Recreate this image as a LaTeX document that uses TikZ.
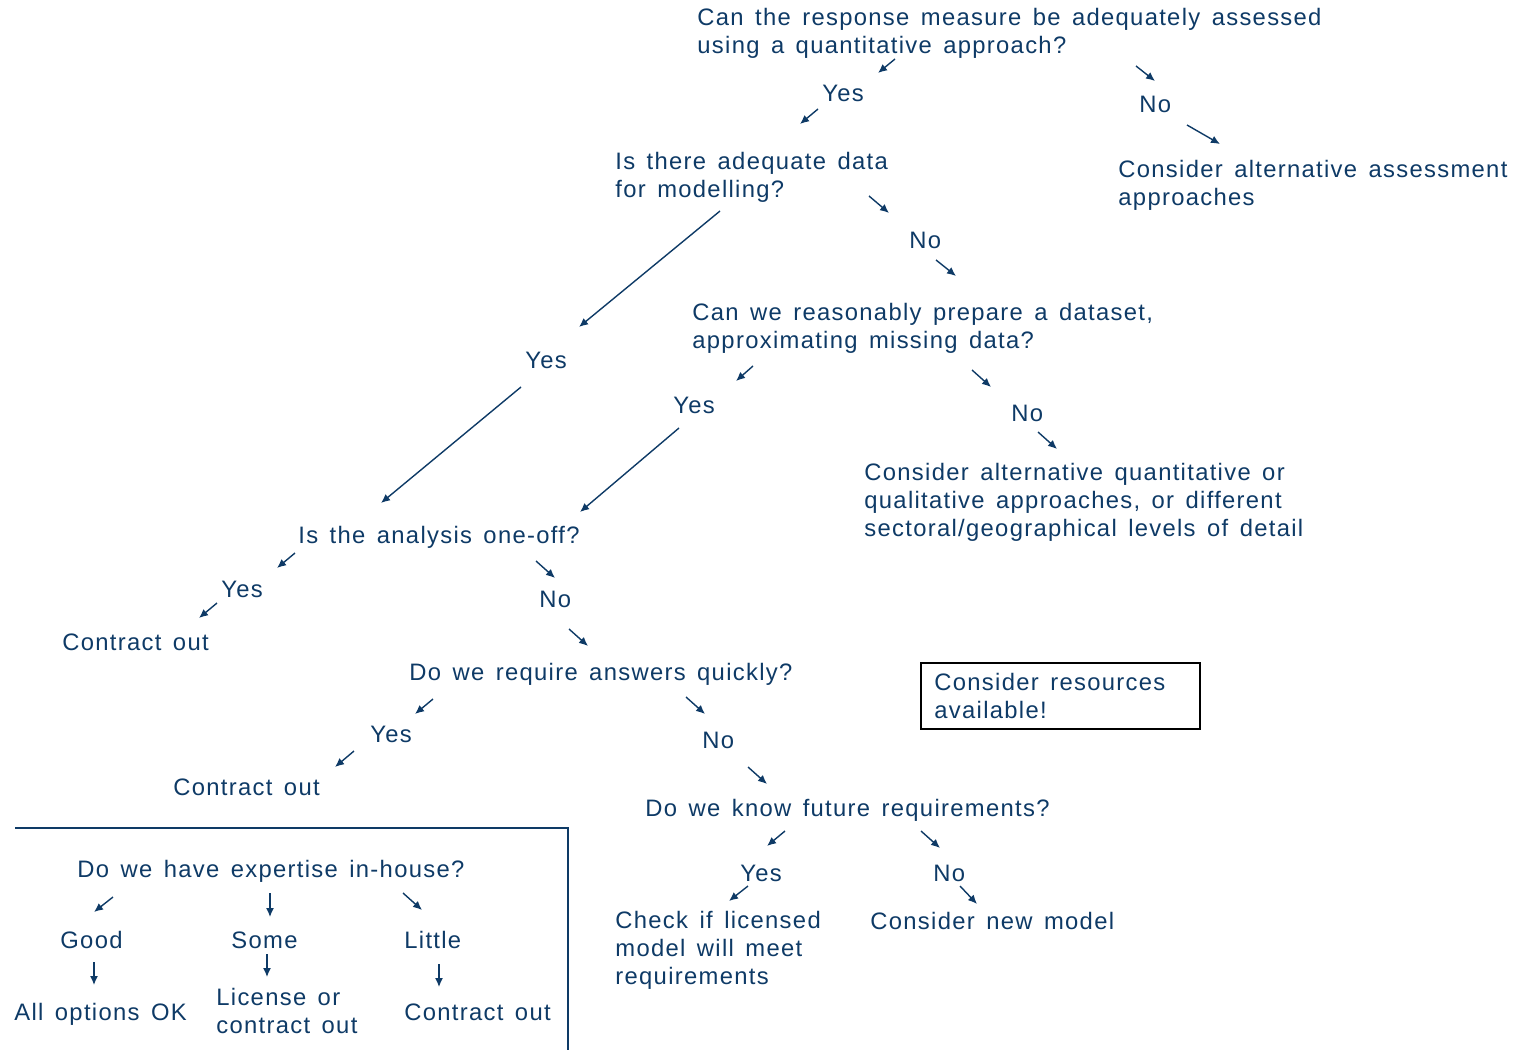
\documentclass[tikz,border=0pt]{standalone}
\usepackage{fontspec}
\setmainfont{Liberation Sans}[LetterSpace=5.5, WordSpace=1.45]
\usetikzlibrary{arrows.meta}
\definecolor{navy}{RGB}{14,58,102}

\begin{document}
\begin{tikzpicture}[x=0.5pt, y=-0.5pt,
            txtnode/.style={anchor=base west, inner sep=0pt, align=left, text=navy, font=\fontsize{11.9}{14}\selectfont},
            arrowline/.style={draw=navy, line width=0.7pt, -{Latex[length=4.5pt, width=4pt]}},
            resbox/.style={draw=black, line width=0.75pt},
        ]
        \useasboundingbox (0,0) rectangle (1513,1050);

        %Nodes (placed at the baseline of their last line)
        \node[txtnode] (qquant)     at (697,53)  {Can the response measure be adequately assessed\\using a quantitative approach?};
        \node[txtnode] (yesquant)   at (822,101) {Yes};
        \node[txtnode] (noquant)    at (1139,112) {No};
        \node[txtnode] (altassess)  at (1118,205) {Consider alternative assessment\\approaches};
        \node[txtnode] (qdata)      at (615,197) {Is there adequate data\\for modelling?};
        \node[txtnode] (nodata)     at (909,248) {No};
        \node[txtnode] (qprep)      at (692,348) {Can we reasonably prepare a dataset,\\approximating missing data?};
        \node[txtnode] (yesdata)    at (525,368) {Yes};
        \node[txtnode] (yesprep)    at (673,413) {Yes};
        \node[txtnode] (noprep)     at (1011,421) {No};
        \node[txtnode] (altquant)   at (864,536) {Consider alternative quantitative or\\qualitative approaches, or different\\sectoral/geographical levels of detail};
        \node[txtnode] (qoneoff)    at (298,543) {Is the analysis one-off?};
        \node[txtnode] (yesoneoff)  at (221,597) {Yes};
        \node[txtnode] (nooneoff)   at (539,607) {No};
        \node[txtnode] (contracta)  at (62,650)  {Contract out};
        \node[txtnode] (qquick)     at (409,680) {Do we require answers quickly?};
        \node[txtnode] (yesquick)   at (370,742) {Yes};
        \node[txtnode] (noquick)    at (702,748) {No};
        \node[txtnode] (contractb)  at (173,795) {Contract out};
        \node[txtnode] (resources)  at (934,718) {Consider resources\\available!};
        \node[txtnode] (qfuture)    at (645,816) {Do we know future requirements?};
        \node[txtnode] (yesfuture)  at (740,881) {Yes};
        \node[txtnode] (nofuture)   at (933,881) {No};
        \node[txtnode] (checklic)   at (615,984) {Check if licensed\\model will meet\\requirements};
        \node[txtnode] (newmodel)   at (870,929) {Consider new model};
        \node[txtnode] (qexpert)    at (77,877)  {Do we have expertise in-house?};
        \node[txtnode] (good)       at (60,948)  {Good};
        \node[txtnode] (some)       at (231,948) {Some};
        \node[txtnode] (little)     at (404,948) {Little};
        \node[txtnode] (alloptions) at (14,1020) {All options OK};
        \node[txtnode] (license)    at (216,1033) {License or\\contract out};
        \node[txtnode] (contractc)  at (404,1020) {Contract out};

        %Boxes
        \coordinate (resnw) at (921,663);
        \coordinate (resse) at (1200,729);
        \draw[resbox] (resnw) rectangle (resse);
        \coordinate (expleft) at (15,828);
        \coordinate (expcorner) at (568,828);
        \coordinate (expbottom) at (568,1050);
        \draw[navy, line width=0.75pt] (expleft) -- (expcorner) -- (expbottom);

        %Lines
        \foreach \name/\sx/\sy/\ex/\ey in {
            quantyes/895/59/878/73, yesdataq/818/109/800/124,
            quantno/1136/66/1155/81, noassess/1187/125/1220/144,
            datayes/720/211/579/327, datano/869/196/889/213,
            noprepq/936/260/956/276, yesoneq/521/387/381/503,
            prepyes/753/366/736/381, yesprepone/679/428/580/512,
            prepno/972/370/991/387, noaltq/1038/432/1057/449,
            oneyes/295/553/277/568, yescona/217/603/199/618,
            oneno/536/561/555/578, noquickq/569/629/588/646,
            quickyes/433/699/415/714, yesconb/354/751/335/767,
            quickno/686/697/705/714, nofutq/748/767/767/784,
            futyes/785/831/767/846, futno/921/831/940/848,
            yescheck/748/886/729/901, nonew/960/886/977/904,
            expgood/113/897/94/912, expsome/270/893/270/917,
            explittle/403/893/422/910, goodall/94/962/94/985,
            somelic/267/954/267/977, littlecon/439/964/439/987}
        {
            \coordinate (\name-s) at (\sx,\sy);
            \coordinate (\name-e) at (\ex,\ey);
            \draw[arrowline] (\name-s) -- (\name-e);
        }
    \end{tikzpicture}
\end{document}
